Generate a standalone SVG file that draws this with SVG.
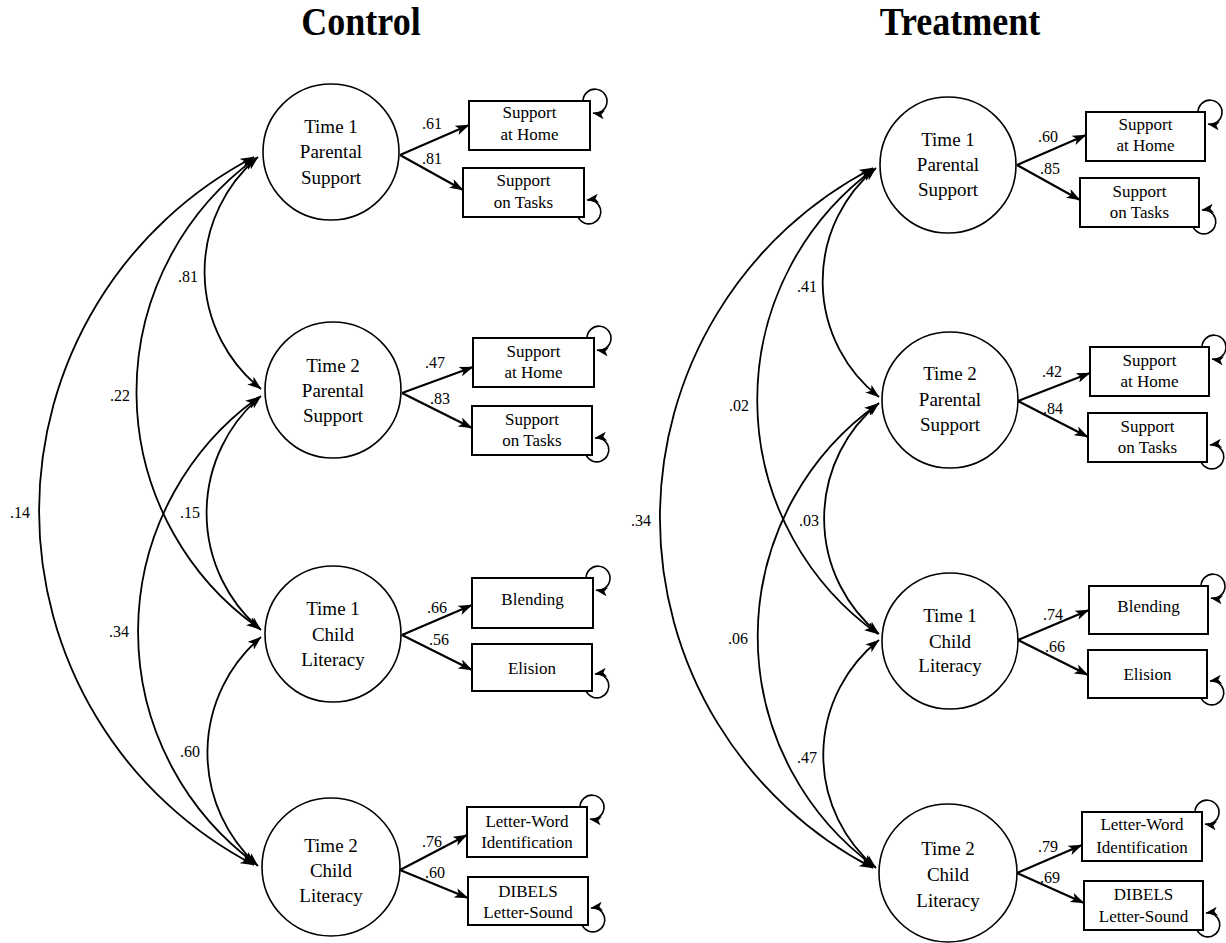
<svg xmlns="http://www.w3.org/2000/svg" width="1226" height="943" viewBox="0 0 1226 943">
<style>
.lat{fill:#fff;stroke:#000;stroke-width:1.6}
.box{fill:#fff;stroke:#000;stroke-width:2}
.cn{fill:none;stroke:#000;stroke-width:1.8}
.ld{fill:none;stroke:#000;stroke-width:2.2;marker-end:url(#ah)}
.cv{fill:none;stroke:#000;stroke-width:1.8;marker-start:url(#ah);marker-end:url(#ah)}
.lp{fill:none;stroke:#000;stroke-width:1.6;marker-end:url(#ahs)}
text{font-family:"Liberation Serif","Times New Roman",serif;fill:#000}
.nt{font-size:19px;text-anchor:middle}
.bt{font-size:17px;text-anchor:middle}
.lb{font-size:16px}
.ti{font-size:36px;font-weight:bold;text-anchor:middle}
</style>
<defs>
<marker id="ah" viewBox="0 0 14 10" refX="13.5" refY="5" markerWidth="14" markerHeight="10" markerUnits="userSpaceOnUse" orient="auto-start-reverse">
<path d="M0,0 L14,5 L0,10 L3.5,5 z" fill="#000"/>
</marker>
<marker id="ahs" viewBox="0 0 12 9" refX="11.5" refY="4.5" markerWidth="12" markerHeight="9" markerUnits="userSpaceOnUse" orient="auto">
<path d="M0,0 L12,4.5 L0,9 L3,4.5 z" fill="#000"/>
</marker>
</defs>
<rect width="1226" height="943" fill="#fff"/>

<text class="ti" transform="translate(361,35) scale(1,1.1)">Control</text>
<text class="ti" transform="translate(960,35) scale(1,1.1)">Treatment</text>

<g id="connectors">
<!-- Control covariances -->
<path class="cv" d="M258,157 A150,150 0 0 0 261,389"/>
<path class="cv" d="M256,158 A289,289 0 0 0 260,629"/>
<path class="cv" d="M254,157 A399,399 0 0 0 254,865"/>
<path class="cv" d="M261,396 A153,153 0 0 0 261,630"/>
<path class="cv" d="M259,397 A288,288 0 0 0 256,864"/>
<path class="cv" d="M261,637 A152,152 0 0 0 258,866"/>
<!-- Treatment covariances -->
<path class="cv" d="M876,168 A147,147 0 0 0 879,397"/>
<path class="cv" d="M874,169 A287,287 0 0 0 878,634"/>
<path class="cv" d="M873,168 A394,394 0 0 0 873,868"/>
<path class="cv" d="M879,403 A149,149 0 0 0 879,634"/>
<path class="cv" d="M878,404 A285,285 0 0 0 875,867"/>
<path class="cv" d="M879,640 A147,147 0 0 0 876,868"/>
<!-- Control loadings -->
<path class="ld" d="M400,155 L469,125"/>
<path class="ld" d="M400,155 L463,190"/>
<path class="ld" d="M402,393 L473,367"/>
<path class="ld" d="M402,393 L472,428"/>
<path class="ld" d="M402,635 L472,605"/>
<path class="ld" d="M402,635 L472,670"/>
<path class="ld" d="M400,870 L467,835"/>
<path class="ld" d="M400,870 L468,898"/>
<!-- Treatment loadings -->
<path class="ld" d="M1017,165 L1086,135"/>
<path class="ld" d="M1017,165 L1080,200"/>
<path class="ld" d="M1018,401 L1090,373"/>
<path class="ld" d="M1018,401 L1088,437"/>
<path class="ld" d="M1018,640 L1089,610"/>
<path class="ld" d="M1018,640 L1088,675"/>
<path class="ld" d="M1017,873 L1082,845"/>
<path class="ld" d="M1017,873 L1084,903"/>
<!-- Control error loops -->
<path class="lp" d="M583,101 A12,12 0 1 1 593,113"/>
<path class="lp" d="M578,217 A12,12 0 1 0 587,200"/>
<path class="lp" d="M587,338 A12,12 0 1 1 597,350"/>
<path class="lp" d="M586,455 A12,12 0 1 0 595,438"/>
<path class="lp" d="M586,578 A12,12 0 1 1 596,590"/>
<path class="lp" d="M586,691 A12,12 0 1 0 595,674"/>
<path class="lp" d="M580,807 A12,12 0 1 1 590,819"/>
<path class="lp" d="M582,925 A12,12 0 1 0 591,908"/>
<!-- Treatment error loops -->
<path class="lp" d="M1198,112 A12,12 0 1 1 1208,124"/>
<path class="lp" d="M1193,227 A12,12 0 1 0 1202,210"/>
<path class="lp" d="M1202,347 A12,12 0 1 1 1212,359"/>
<path class="lp" d="M1201,462 A12,12 0 1 0 1210,445"/>
<path class="lp" d="M1201,586 A12,12 0 1 1 1211,598"/>
<path class="lp" d="M1201,698 A12,12 0 1 0 1210,681"/>
<path class="lp" d="M1195,812 A12,12 0 1 1 1205,824"/>
<path class="lp" d="M1197,930 A12,12 0 1 0 1206,913"/>
</g>

<g id="labels">
<text class="lb" x="178" y="282">.81</text>
<text class="lb" x="110" y="401">.22</text>
<text class="lb" x="10" y="518">.14</text>
<text class="lb" x="180" y="518">.15</text>
<text class="lb" x="109" y="637">.34</text>
<text class="lb" x="180" y="757">.60</text>
<text class="lb" x="797" y="292">.41</text>
<text class="lb" x="729" y="411">.02</text>
<text class="lb" x="631" y="526">.34</text>
<text class="lb" x="799" y="526">.03</text>
<text class="lb" x="728" y="644">.06</text>
<text class="lb" x="797" y="763">.47</text>
<text class="lb" x="422" y="129">.61</text>
<text class="lb" x="422" y="164">.81</text>
<text class="lb" x="425" y="368">.47</text>
<text class="lb" x="430" y="404">.83</text>
<text class="lb" x="427" y="613">.66</text>
<text class="lb" x="429" y="645">.56</text>
<text class="lb" x="422" y="847">.76</text>
<text class="lb" x="425" y="878">.60</text>
<text class="lb" x="1038" y="142">.60</text>
<text class="lb" x="1040" y="174">.85</text>
<text class="lb" x="1042" y="377">.42</text>
<text class="lb" x="1043" y="414">.84</text>
<text class="lb" x="1043" y="620">.74</text>
<text class="lb" x="1045" y="652">.66</text>
<text class="lb" x="1038" y="852">.79</text>
<text class="lb" x="1040" y="883">.69</text>
</g>

<!-- Control latent nodes -->
<g id="c_t1ps"><circle class="lat" cx="331" cy="152" r="68"/>
<text class="nt" x="331" y="133">Time 1</text><text class="nt" x="331" y="158">Parental</text><text class="nt" x="331" y="184">Support</text></g>
<g id="c_t2ps"><circle class="lat" cx="333" cy="390" r="68"/>
<text class="nt" x="333" y="372">Time 2</text><text class="nt" x="333" y="397">Parental</text><text class="nt" x="333" y="422">Support</text></g>
<g id="c_t1cl"><circle class="lat" cx="333" cy="634" r="68"/>
<text class="nt" x="333" y="615">Time 1</text><text class="nt" x="333" y="641">Child</text><text class="nt" x="333" y="666">Literacy</text></g>
<g id="c_t2cl"><circle class="lat" cx="331" cy="867" r="69"/>
<text class="nt" x="331" y="852">Time 2</text><text class="nt" x="331" y="877">Child</text><text class="nt" x="331" y="902">Literacy</text></g>

<!-- Control indicators -->
<g id="c_home1"><rect class="box" x="469" y="101" width="121" height="49"/>
<text class="bt" x="529.5" y="118">Support</text><text class="bt" x="529.5" y="140">at Home</text></g>
<g id="c_tasks1"><rect class="box" x="463" y="168" width="121" height="49"/>
<text class="bt" x="523.5" y="186">Support</text><text class="bt" x="523.5" y="208">on Tasks</text></g>
<g id="c_home2"><rect class="box" x="473" y="338" width="121" height="49"/>
<text class="bt" x="533.5" y="357">Support</text><text class="bt" x="533.5" y="378">at Home</text></g>
<g id="c_tasks2"><rect class="box" x="472" y="406" width="120" height="49"/>
<text class="bt" x="532" y="425">Support</text><text class="bt" x="532" y="446">on Tasks</text></g>
<g id="c_blend"><rect class="box" x="472" y="578" width="121" height="50"/>
<text class="bt" x="532.5" y="605">Blending</text></g>
<g id="c_elis"><rect class="box" x="472" y="644" width="120" height="47"/>
<text class="bt" x="532" y="674">Elision</text></g>
<g id="c_lw"><rect class="box" x="467" y="807" width="120" height="50"/>
<text class="bt" x="527" y="827">Letter-Word</text><text class="bt" x="527" y="848">Identification</text></g>
<g id="c_dib"><rect class="box" x="468" y="877" width="120" height="48"/>
<text class="bt" x="528" y="897">DIBELS</text><text class="bt" x="528" y="918">Letter-Sound</text></g>

<!-- Treatment latent nodes -->
<g id="t_t1ps"><circle class="lat" cx="948" cy="165" r="68"/>
<text class="nt" x="948" y="146">Time 1</text><text class="nt" x="948" y="171">Parental</text><text class="nt" x="948" y="196">Support</text></g>
<g id="t_t2ps"><circle class="lat" cx="950" cy="400" r="68"/>
<text class="nt" x="950" y="380">Time 2</text><text class="nt" x="950" y="406">Parental</text><text class="nt" x="950" y="431">Support</text></g>
<g id="t_t1cl"><circle class="lat" cx="950" cy="641" r="68"/>
<text class="nt" x="950" y="622">Time 1</text><text class="nt" x="950" y="648">Child</text><text class="nt" x="950" y="672">Literacy</text></g>
<g id="t_t2cl"><circle class="lat" cx="948" cy="873" r="69"/>
<text class="nt" x="948" y="855">Time 2</text><text class="nt" x="948" y="881">Child</text><text class="nt" x="948" y="907">Literacy</text></g>

<!-- Treatment indicators -->
<g id="t_home1"><rect class="box" x="1086" y="112" width="119" height="49"/>
<text class="bt" x="1145.5" y="130">Support</text><text class="bt" x="1145.5" y="151">at Home</text></g>
<g id="t_tasks1"><rect class="box" x="1080" y="178" width="119" height="49"/>
<text class="bt" x="1139.5" y="197">Support</text><text class="bt" x="1139.5" y="218">on Tasks</text></g>
<g id="t_home2"><rect class="box" x="1090" y="347" width="119" height="49"/>
<text class="bt" x="1149.5" y="366">Support</text><text class="bt" x="1149.5" y="387">at Home</text></g>
<g id="t_tasks2"><rect class="box" x="1088" y="413" width="119" height="49"/>
<text class="bt" x="1147.5" y="432">Support</text><text class="bt" x="1147.5" y="453">on Tasks</text></g>
<g id="t_blend"><rect class="box" x="1089" y="586" width="119" height="48"/>
<text class="bt" x="1148.5" y="612">Blending</text></g>
<g id="t_elis"><rect class="box" x="1088" y="650" width="119" height="48"/>
<text class="bt" x="1147.5" y="680">Elision</text></g>
<g id="t_lw"><rect class="box" x="1082" y="812" width="120" height="49"/>
<text class="bt" x="1142" y="830">Letter-Word</text><text class="bt" x="1142" y="853">Identification</text></g>
<g id="t_dib"><rect class="box" x="1084" y="881" width="119" height="49"/>
<text class="bt" x="1143.5" y="900">DIBELS</text><text class="bt" x="1143.5" y="922">Letter-Sound</text></g>
</svg>
